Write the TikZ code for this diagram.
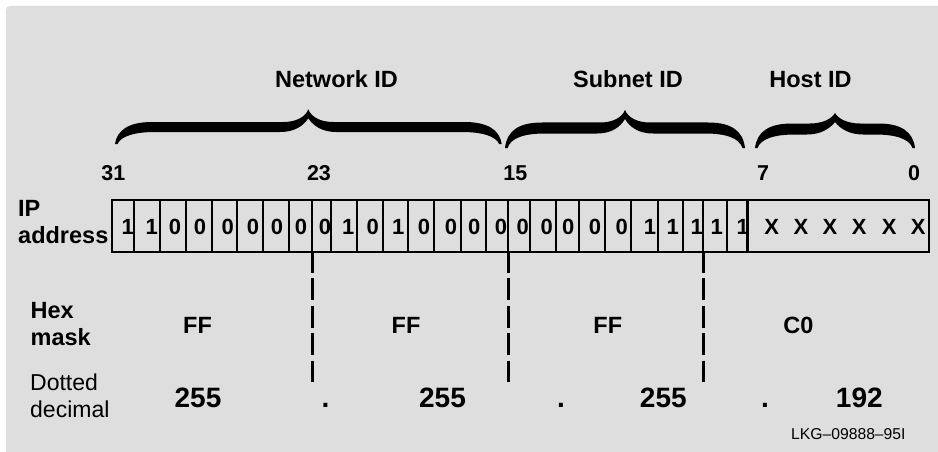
\documentclass[tikz,border=0pt]{standalone}
\usepackage{fontspec}
\setmainfont{Liberation Sans}

% Calligraphic curly brace as a filled outline.
% #1 left end x, #2 tip x, #3 right end x, #4 tip y,
% #5 bar top y, #6 bar bottom y, #7 end y
\newcommand\curlybrace[7]{%
  \fill (#1,#7)
    .. controls ({#1+2},{#5+8}) and ({#1+14},#5) .. ({#1+37},#5)
    -- ({#2-25},#5)
    .. controls ({#2-12},#5) and ({#2-3},{#5-5}) .. (#2,#4)
    .. controls ({#2+3},{#5-5}) and ({#2+12},#5) .. ({#2+25},#5)
    -- ({#3-37},#5)
    .. controls ({#3-14},#5) and ({#3-2},{#5+8}) .. (#3,#7)
    -- ({#3-2.5},#7)
    .. controls ({#3-6},{#6+4}) and ({#3-20},#6) .. ({#3-40},#6)
    -- ({#2+28},#6)
    .. controls ({#2+14},#6) and ({#2+5},{#6-6}) .. (#2,{#4+9})
    .. controls ({#2-5},{#6-6}) and ({#2-14},#6) .. ({#2-28},#6)
    -- ({#1+40},#6)
    .. controls ({#1+20},#6) and ({#1+6},{#6+4}) .. ({#1+2.5},#7)
    -- cycle;}

\begin{document}
\begin{tikzpicture}[x=1pt,y=-1pt,
  txt/.style={inner sep=0pt, anchor=base},
  idlabel/.style={txt, font=\fontsize{23.5}{27}\selectfont\bfseries},
  bitno/.style={txt, font=\fontsize{21.5}{25}\selectfont\bfseries},
  bitval/.style={txt, font=\fontsize{22}{26}\selectfont\bfseries},
  rowlbl/.style={txt, anchor=base west, font=\fontsize{23.5}{27}\selectfont\bfseries},
  rowlblr/.style={txt, anchor=base west, font=\fontsize{23}{27}\selectfont},
  decval/.style={txt, font=\fontsize{28}{32}\selectfont\bfseries},
  tag/.style={txt, anchor=base west, font=\fontsize{15.7}{18}\selectfont},
  gridline/.style={line width=2pt},
  cut/.style={line width=2.5pt, dash pattern=on 21.7pt off 5.7pt},
]
\useasboundingbox (0,0) rectangle (938,452);

% panel
\fill[white] (0,0) rectangle (938,452);
\fill[black!13] (6,452) -- (6,10) arc (180:270:4) -- (938,6) -- (938,452) -- cycle;

% field labels
\node[idlabel] (netid) at (336.5,88) {Network ID};
\node[idlabel] (subid) at (628,88) {Subnet ID};
\node[idlabel] (hostid) at (810.5,88) {Host ID};

% braces
\curlybrace{115}{308.3}{501.7}{109.3}{122}{132}{144}
\curlybrace{505}{625}{745}{110}{122.5}{133.5}{148}
\curlybrace{755}{835}{915}{113}{123.5}{134.5}{148}

% bit numbers
\node[bitno] (n31) at (113.3,180.7) {31};
\node[bitno] (n23) at (319,180.7) {23};
\node[bitno] (n15) at (515.3,180.7) {15};
\node[bitno] (n7) at (763,180.7) {7};
\node[bitno] (n0) at (914,180.7) {0};

% address register
\node[rowlbl] (ip) at (18,216) {IP};
\node[rowlbl] (addr) at (18,243) {address};
\node[draw, gridline, anchor=north west, inner sep=0pt,
      minimum width=817.3pt, minimum height=52pt] (reg) at (111,199) {};
\foreach \x in {134,160,185.7,211.7,237,263,288.7,312,331,356.7,382.7,408.3,
                434,460.7,485.7,508.3,530,556,579.3,605,630.7,658.3,682.7,
                703.3,726.7}
  \draw[gridline] (\x,199) -- (\x,251);
\draw[line width=3pt] (747.7,199) -- (747.7,251);

\foreach \x/\v [count=\i] in {127.7/1,151.7/1,175/0,200/0,227.7/0,253/0,277/0,
    301/0,325/0,348.3/1,372.7/0,398.3/1,424/0,451/0,474.3/0,501/0,522.7/0,
    546.7/0,568.3/0,595/0,621.7/0,650/1,672.7/1,696.7/1,716.7/1,742.7/1}
  \node[bitval] (b\i) at (\x,234.5) {\v};
\foreach \x [count=\i] in {771.7,801,830,859.3,889.3,918.3}
  \node[bitval] (x\i) at (\x,234) {X};

% octet boundaries
\coordinate (s1) at (312.3,251);   \coordinate (e1) at (312.3,382.7);
\coordinate (s2) at (508.3,251);   \coordinate (e2) at (508.3,382.7);
\coordinate (s3) at (703.3,251);   \coordinate (e3) at (703.3,382.7);
\draw[cut] (s1) -- (e1);
\draw[cut] (s2) -- (e2);
\draw[cut] (s3) -- (e3);

% hex mask row
\node[rowlbl] (hex) at (30.5,318) {Hex};
\node[rowlbl] (mask) at (30.5,345) {mask};
\node[idlabel] (h1) at (197.5,333) {FF};
\node[idlabel] (h2) at (406,333) {FF};
\node[idlabel] (h3) at (607.8,333) {FF};
\node[idlabel] (h4) at (798.3,333) {C0};

% dotted decimal row
\node[rowlblr] (dotted) at (30,390.5) {Dotted};
\node[rowlblr] (decimal) at (30,417) {decimal};
\node[decval] (d1) at (198,407) {255};
\node[decval] (p1) at (325.5,407) {.};
\node[decval] (d2) at (442.5,407) {255};
\node[decval] (p2) at (561,407) {.};
\node[decval] (d3) at (663.3,407) {255};
\node[decval] (p3) at (765,407) {.};
\node[decval] (d4) at (859.3,407) {192};

\node[tag] (ref) at (791,439.3) {LKG–09888–95I};
\end{tikzpicture}
\end{document}
